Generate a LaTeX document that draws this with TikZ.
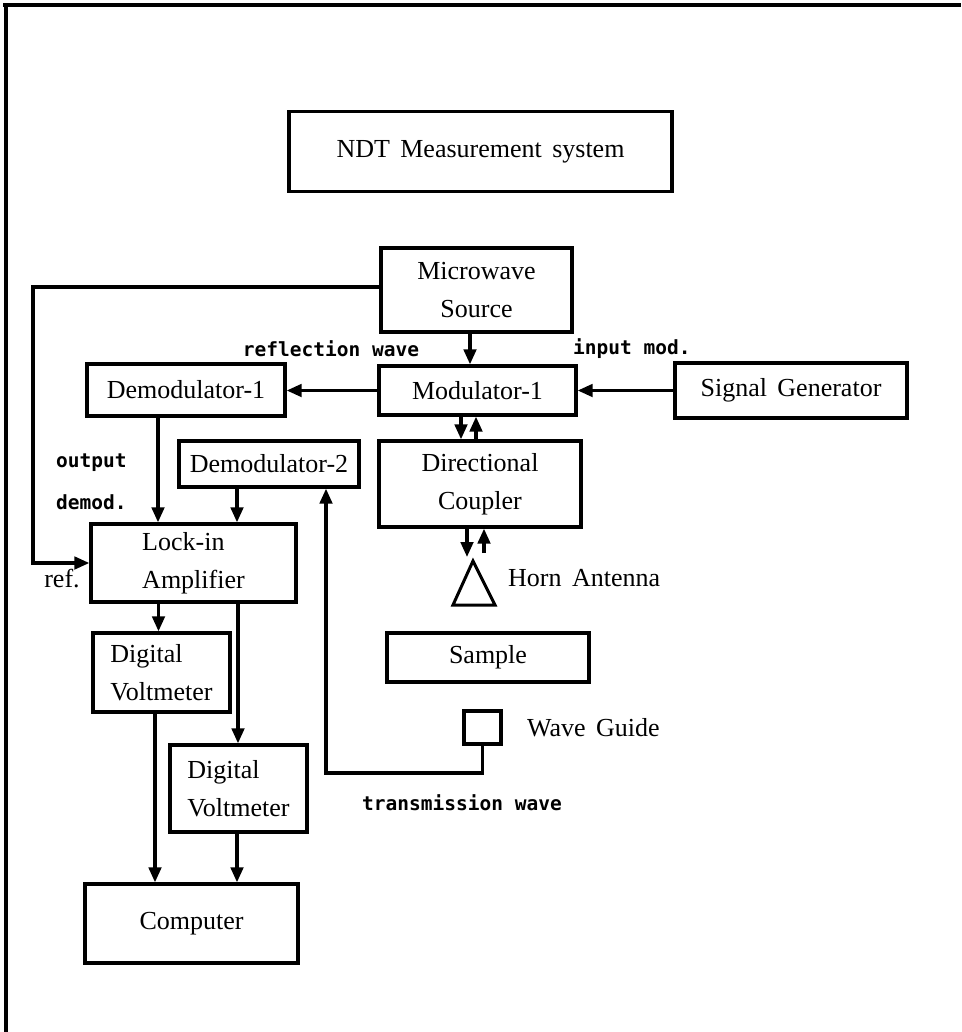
\documentclass[tikz,border=0pt]{standalone}
\usepackage{fontspec}
\setmainfont{Liberation Serif}[WordSpace=1.6]
\newfontfamily\monofont{DejaVu Sans Mono}
\usetikzlibrary{arrows.meta,calc}
\begin{document}
\begin{tikzpicture}[x=1pt,y=-1pt,
  box/.style={draw, line width=3.3pt, inner sep=0pt, font=\fontsize{26}{37.5}\selectfont, align=center},
  arr/.style={line width=3.2pt, -{Triangle[length=15pt,width=12.5pt]}},
  lbl/.style={font=\monofont\bfseries\fontsize{19.5}{30}\selectfont, inner sep=0pt},
  txt/.style={font=\fontsize{26}{37.5}\selectfont, inner sep=0pt},
  frame/.style={line width=3.5pt}]
\useasboundingbox (0,0) rectangle (961,1032);
\fill[white] (0,0) rectangle (961,1032);
% outer frame (top and left)
\coordinate (ftl) at (6,5);
\coordinate (ftr) at (961,5);
\coordinate (fbl) at (6,1032);
\draw[frame] (3,5) -- (ftr);
\draw[frame] (ftl) -- (fbl);
% boxes
\node[box, minimum width=383pt, minimum height=80pt] (ndt) at (480.5,151.5) {NDT Measurement system};
\node[box, minimum width=191pt, minimum height=84pt] (src) at (476.5,290) {Microwave\\Source};
\node[box, minimum width=197pt, minimum height=49pt] (mod) at (477.5,390.5) {Modulator-1};
\node[box, minimum width=198pt, minimum height=52pt] (dem1) at (186,390) {Demodulator-1};
\node[box, minimum width=232pt, minimum height=55pt] (sg) at (791,390.5) {Signal Generator};
\node[box, minimum width=180pt, minimum height=46pt] (dem2) at (269,464) {Demodulator-2};
\node[box, minimum width=202pt, minimum height=86pt] (cpl) at (480,484) {Directional\\Coupler};
\node[box, align=left, minimum width=205pt, minimum height=78pt] (lock) at (193.5,563) {Lock-in\\Amplifier};
\node[box, align=left, minimum width=137pt, minimum height=79pt] (dv1) at (161.5,672.5) {Digital\\Voltmeter};
\node[box, align=left, minimum width=137pt, minimum height=87pt] (dv2) at (238.5,788.5) {Digital\\Voltmeter};
\node[box, minimum width=213pt, minimum height=79pt] (comp) at (191.5,923.5) {Computer};
\node[box, minimum width=202pt, minimum height=49pt] (smp) at (488,657.5) {Sample};
\node[box, minimum width=37pt, minimum height=33pt] (wg) at (482.5,727.5) {};
% horn antenna
\coordinate (hapex) at (473,561);
\coordinate (hbl) at (453,605);
\coordinate (hbr) at (495,605);
\draw[line width=3pt, line join=miter] (hapex) -- (hbl) -- (hbr) -- cycle;
\coordinate (horn) at (473,557);
\coordinate (hornb) at (484,553);
% labels
\node[lbl] (lrefl) at (331,349) {reflection wave};
\node[lbl, anchor=west] (linp) at (573,349) {input mod.};
\node[lbl, anchor=west] (lout) at (56,463) {output};
\node[lbl, anchor=west] (ldem) at (56,502) {demod.};
\node[txt] (lref) at (62,579) {ref.};
\node[lbl] (ltr) at (462,803) {transmission wave};
\node[txt, anchor=west] (lwg) at (527,728) {Wave Guide};
\node[txt, anchor=west] (lhorn) at (508,578) {Horn Antenna};
% connectors
\draw[arr] ([xshift=-6.5pt]src.south) -- ([xshift=-6.5pt]src.south |- mod.north);
\draw[arr] (mod.west) -- (mod.west -| dem1.east);
\draw[arr] (sg.west) -- (sg.west -| mod.east);
\draw[arr] ([xshift=-16.5pt]mod.south) -- ([xshift=-16.5pt]mod.south |- cpl.north);
\draw[arr] ([xshift=-1.5pt]mod.south |- cpl.north) -- ([xshift=-1.5pt]mod.south);
\draw[arr] ([xshift=-13pt]cpl.south) -- ([xshift=-13pt]cpl.south |- horn);
\draw[arr] ([xshift=4pt]cpl.south |- hornb) -- ([xshift=4pt]cpl.south);
\coordinate (fb) at (33,287);
\draw[arr] ([yshift=3pt]src.west) -- (fb) |- (lock.west);
\draw[arr] ([xshift=-28pt]dem1.south) -- ([xshift=-28pt]dem1.south |- lock.north);
\draw[arr] ([xshift=-32pt]dem2.south) -- ([xshift=-32pt]dem2.south |- lock.north);
\coordinate (tw) at (326,773);
\draw[arr] (wg.south) |- (tw) -- (tw |- dem2.south);
\draw[arr] ([xshift=-35pt]lock.south) -- ([xshift=-35pt]lock.south |- dv1.north);
\draw[arr] ([xshift=44.5pt]lock.south) -- ([xshift=44.5pt]lock.south |- dv2.north);
\draw[arr] ([xshift=-6.5pt]dv1.south) -- ([xshift=-6.5pt]dv1.south |- comp.north);
\draw[arr] ([xshift=-1.5pt]dv2.south) -- ([xshift=-1.5pt]dv2.south |- comp.north);
\end{tikzpicture}
\end{document}
